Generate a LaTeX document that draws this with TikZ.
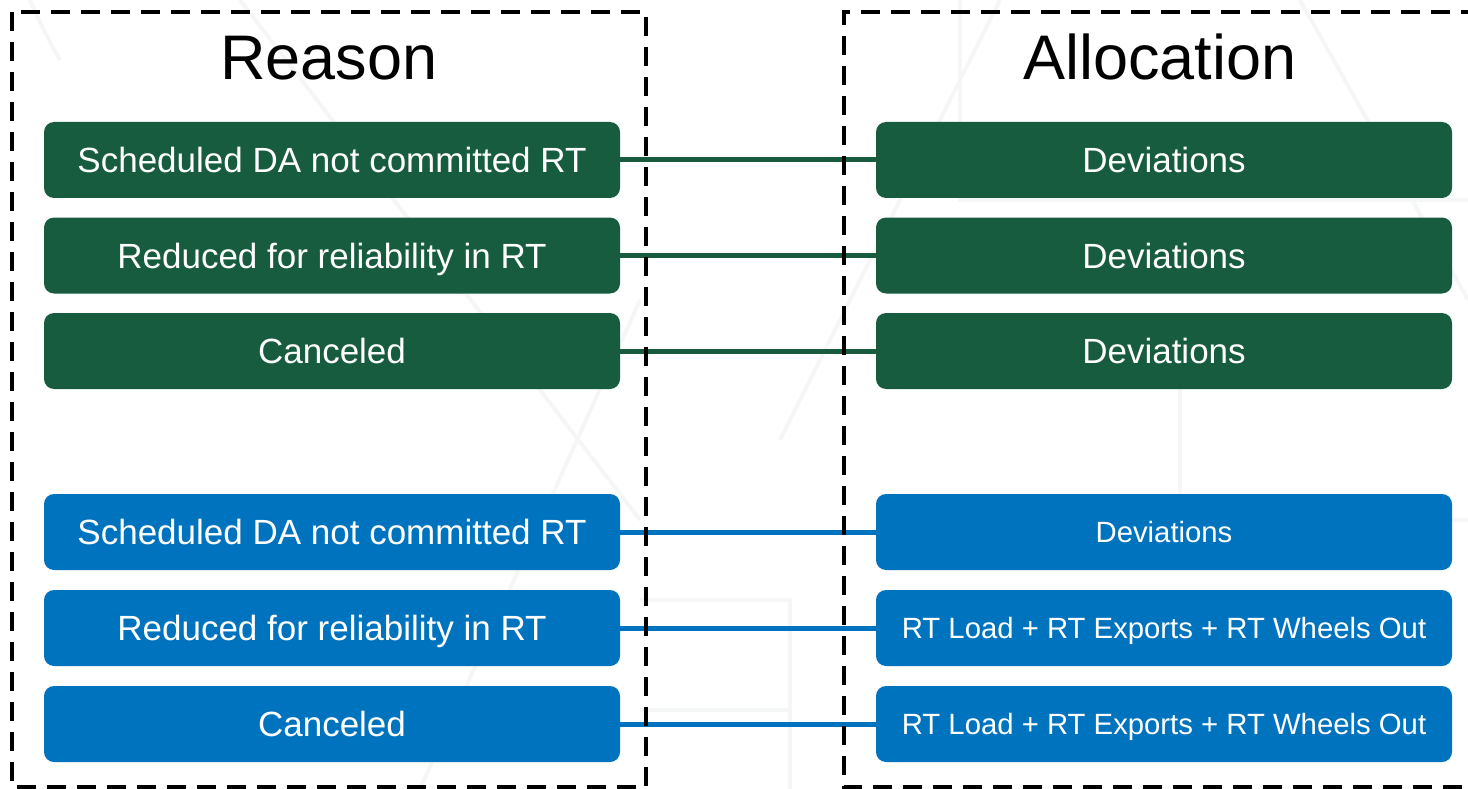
\documentclass[tikz,border=0pt]{standalone}
\usepackage{fontspec}
\setmainfont{Liberation Sans}
\definecolor{dgreen}{RGB}{24,92,64}
\definecolor{mblue}{RGB}{0,115,190}
\definecolor{wm}{RGB}{244,247,246}
\begin{document}
\begin{tikzpicture}[x=1pt,y=-1pt,
  box/.style={rounded corners=10pt, minimum width=576pt, minimum height=76pt, inner sep=0pt, text=white, font=\fontsize{35}{40}\selectfont, text height=25pt, text depth=0pt},
  gbox/.style={box, fill=dgreen},
  bbox/.style={box, fill=mblue},
  small/.style={font=\fontsize{29.3}{34}\selectfont, text height=21pt},
  gline/.style={draw=dgreen, line width=5pt},
  bline/.style={draw=mblue, line width=5pt},
  frame/.style={draw=black, line width=4.5pt, dash pattern=on 19pt off 11pt},
  title/.style={font=\fontsize{63}{70}\selectfont, text=black, inner sep=0pt}]
\useasboundingbox (0,0) rectangle (1468,789);
% faint watermark
\begin{scope}[draw=wm, line width=4pt]
\draw (240,0) -- (640,520);
\draw (640,300) -- (420,789);
\draw (780,440) -- (1000,0);
\draw (1300,0) -- (1468,300);
\draw (960,0) -- (960,200) -- (1468,200);
\draw (1180,380) -- (1180,520) -- (1468,520);
\draw (640,600) -- (790,600) -- (790,789);
\draw (640,710) -- (790,710);
\draw (60,60) arc[start angle=150, end angle=230, radius=560];
\end{scope}
% boxes
\node[gbox] (g1) at (332,160) {Scheduled DA not committed RT};
\node[gbox] (g2) at (332,255.5) {Reduced for reliability in RT};
\node[gbox] (g3) at (332,351) {Canceled};
\node[gbox] (h1) at (1164,160) {Deviations};
\node[gbox] (h2) at (1164,255.5) {Deviations};
\node[gbox] (h3) at (1164,351) {Deviations};
\node[bbox] (b1) at (332,532) {Scheduled DA not committed RT};
\node[bbox] (b2) at (332,628) {Reduced for reliability in RT};
\node[bbox] (b3) at (332,724) {Canceled};
\node[bbox, small] (c1) at (1164,532) {Deviations};
\node[bbox, small] (c2) at (1164,628) {RT Load + RT Exports + RT Wheels Out};
\node[bbox, small] (c3) at (1164,724) {RT Load + RT Exports + RT Wheels Out};
% connectors
\draw[gline] (g1.east) -- (h1.west);
\draw[gline] (g2.east) -- (h2.west);
\draw[gline] (g3.east) -- (h3.west);
\draw[bline] (b1.east) -- (c1.west);
\draw[bline] (b2.east) -- (c2.west);
\draw[bline] (b3.east) -- (c3.west);
% titles
\node[title, anchor=base] (tr) at (329,80) {Reason};
\node[title, anchor=base] (ta) at (1160,80) {Allocation};
% dashed frames
\draw[frame] (12,12) rectangle (646,787);
\draw[frame] (1480,12) -- (844,12) -- (844,787) -- (1480,787);
\end{tikzpicture}
\end{document}
